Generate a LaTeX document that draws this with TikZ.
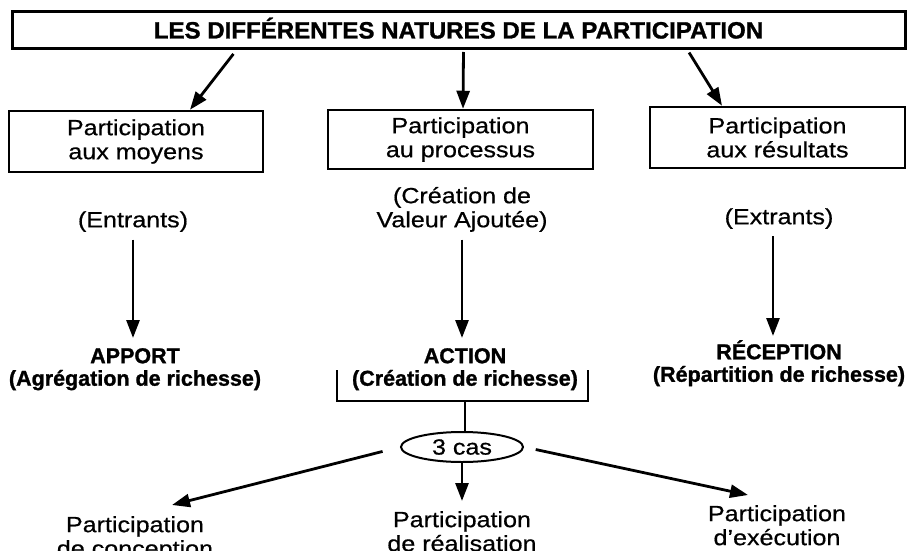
\documentclass[tikz,border=0pt]{standalone}
\usepackage{fontspec}
\setmainfont{Liberation Sans}[FakeStretch=1.14, FakeBold=0.6]
\newfontfamily\boldfont{Liberation Sans Bold}[FakeBold=1.2]
\newfontfamily\headfont{Liberation Sans Bold}[FakeStretch=1.02, FakeBold=1.2]
\usetikzlibrary{arrows.meta,shapes.geometric,calc}

\begin{document}
\begin{tikzpicture}[x=1pt,y=-1pt,
  every node/.style={font=\fontsize{22}{24}\selectfont, align=center},
  frame/.style={draw, line width=2.5pt, inner sep=0pt},
  note/.style={inner xsep=0pt, inner ysep=5pt, anchor=south},
  heavy/.style={font=\boldfont\fontsize{21.5}{22.5}\selectfont, inner xsep=0pt, inner ysep=10pt, anchor=north},
  label/.style={inner sep=0pt, anchor=north},
  arr/.style={line width=2.8pt, -{Triangle[length=18pt,width=13pt]}},
  rule/.style={line width=2pt}]

\useasboundingbox (0,0) rectangle (907,551);

% heading
\node[draw, line width=3pt, minimum width=893pt, minimum height=37pt, inner sep=0pt,
      text height=17pt, text depth=0pt,
      font=\headfont\fontsize{23.6}{25}\selectfont] (title) at (458.5,30)
  {LES DIFFÉRENTES NATURES DE LA PARTICIPATION};

% the three kinds of participation
\node[frame, minimum width=254pt, minimum height=61pt] (moy) at (136,141.5)
  {Participation\\aux moyens};
\node[frame, minimum width=265pt, minimum height=59pt] (proc) at (460.5,139.5)
  {Participation\\au processus};
\node[frame, minimum width=255pt, minimum height=61pt] (res) at (777.5,137.5)
  {Participation\\aux résultats};

\draw[arr, shorten <=5pt] ($(title.south)+(-222,0)$) -- ($(moy.north)+(54,0)$);
\draw[arr, shorten <=2pt] ($(title.south)+(5,0)$) -- ($(proc.north)+(2.5,0)$);
\draw[arr, shorten <=3pt] ($(title.south)+(229,0)$) -- ($(res.north)+(-55.5,0)$);

% flows
\node[note] (entr) at (133,237) {(Entrants)};
\node[note] (crea) at (462,237) {(Création de\\Valeur Ajoutée)};
\node[note] (ext) at (779,234) {(Extrants)};

\node[heavy] (apport) at (135,338) {APPORT\\(Agrégation de richesse)};
\node[heavy] (action) at (465,338) {ACTION\\(Création de richesse)};
\node[heavy, inner ysep=7pt] (rec) at (779,333) {RÉCEPTION\\(Répartition de richesse)};

\draw[arr] ([yshift=-2.5pt]entr.south) -- (entr.south |- apport.north);
\draw[arr] ([yshift=-2.5pt]crea.south) -- (crea.south |- action.north);
\draw[arr] ([xshift=-6pt,yshift=-2pt]ext.south) -- ([xshift=-6pt,yshift=-3pt]rec.north);

% bracket under ACTION
\draw[rule] (337,370) -- (337,401) -- (588,401) -- (588,370);
\coordinate (brk) at (465,401);

\node[draw, ellipse, line width=2pt, minimum width=122pt, minimum height=30pt, inner sep=0pt] (cas) at (462,447) {3 cas};
\draw[rule] (brk) -- (brk |- cas.north);

% the three cases
\node[label] (conc) at (135,516) {Participation\\de conception};
\node[label] (real) at (462,511) {Participation\\de réalisation};
\node[label] (exec) at (777,505) {Participation\\d’exécution};

\coordinate (e1) at (172,505);
\coordinate (e3) at (748,495);
\draw[arr, shorten <=18pt] (cas.west) -- (e1);
\draw[arr, shorten <=12pt] (cas.east) -- (e3);
\draw[arr, shorten >=10pt] (cas.south) -- (cas.south |- real.north);

\end{tikzpicture}
\end{document}
